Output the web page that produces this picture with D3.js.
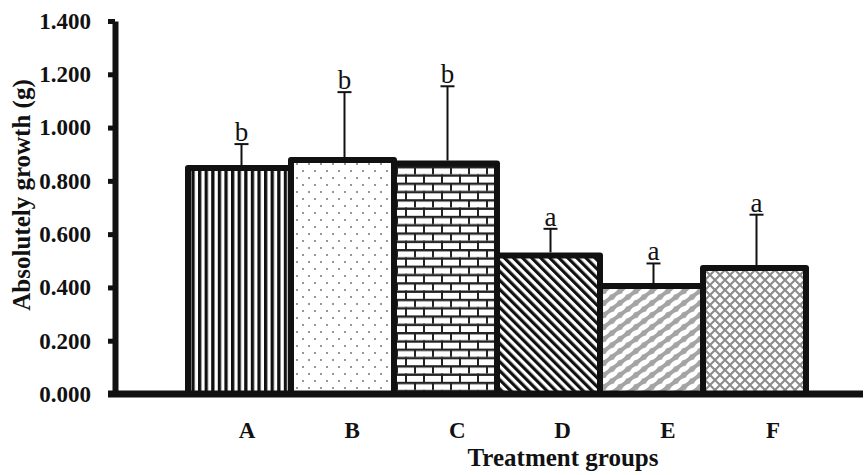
<!DOCTYPE html>
<html><head><meta charset="utf-8">
<script src="https://cdn.jsdelivr.net/npm/d3@7"></script>
<style>body{margin:0;background:#fff}svg{display:block}</style>
</head><body>
<svg id="chart" width="866" height="475"></svg>
<script>
const categories = ["A","B","C","D","E","F"];
const means = [0.848, 0.878, 0.865, 0.520, 0.405, 0.473];
const errors = [0.090, 0.255, 0.290, 0.100, 0.085, 0.200];
const letters = ["b","b","b","a","a","a"];
const tickValues = [0, 0.2, 0.4, 0.6, 0.8, 1.0, 1.2, 1.4];
const patterns = ["pA","pB","pC","pD","pE","pF"];

const svg = d3.select("#chart");
const defs = svg.append("defs");
// A vertical stripes
let p = defs.append("pattern").attr("id","pA").attr("patternUnits","userSpaceOnUse").attr("width",6.6).attr("height",10);
p.append("rect").attr("width",6.6).attr("height",10).attr("fill","#fff");
p.append("rect").attr("x",0).attr("width",3.3).attr("height",10).attr("fill","#111");
// B dots
p = defs.append("pattern").attr("id","pB").attr("patternUnits","userSpaceOnUse").attr("width",12).attr("height",14);
p.append("rect").attr("width",12).attr("height",14).attr("fill","#fff");
p.append("circle").attr("cx",3).attr("cy",3).attr("r",0.9).attr("fill","#666");
p.append("circle").attr("cx",9).attr("cy",10).attr("r",0.9).attr("fill","#666");
// C bricks
p = defs.append("pattern").attr("id","pC").attr("patternUnits","userSpaceOnUse").attr("width",18).attr("height",16.6);
p.append("rect").attr("width",18).attr("height",16.6).attr("fill","#fff");
p.append("rect").attr("x",0).attr("y",0).attr("width",18).attr("height",2.4).attr("fill","#222");
p.append("rect").attr("x",0).attr("y",8.3).attr("width",18).attr("height",2.4).attr("fill","#222");
p.append("rect").attr("x",0).attr("y",0).attr("width",2).attr("height",8.3).attr("fill","#222");
p.append("rect").attr("x",9).attr("y",8.3).attr("width",2).attr("height",8.3).attr("fill","#222");
// D diagonal stripes
p = defs.append("pattern").attr("id","pD").attr("patternUnits","userSpaceOnUse").attr("width",6.4).attr("height",10).attr("patternTransform","rotate(-45)");
p.append("rect").attr("width",6.4).attr("height",10).attr("fill","#fff");
p.append("rect").attr("width",3.2).attr("height",10).attr("fill","#111");
// E weave
p = defs.append("pattern").attr("id","pE").attr("patternUnits","userSpaceOnUse").attr("width",16).attr("height",12);
p.append("rect").attr("width",16).attr("height",12).attr("fill","#a4a4a4");
[[4,3],[12,9],[20,3],[-4,9],[4,15],[-4,-3],[12,-3],[20,15]].forEach(([cx,cy]) => {
  p.append("ellipse").attr("cx",cx).attr("cy",cy).attr("rx",6.5).attr("ry",2.7)
   .attr("transform",`rotate(-28 ${cx} ${cy})`).attr("fill","#fff");
});
// F diamonds
p = defs.append("pattern").attr("id","pF").attr("patternUnits","userSpaceOnUse").attr("width",10).attr("height",10);
p.append("rect").attr("width",10).attr("height",10).attr("fill","#8c8c8c");
const dia = (cx,cy,r)=>`M${cx},${cy-r}L${cx+r},${cy}L${cx},${cy+r}L${cx-r},${cy}Z`;
p.append("path").attr("d",dia(0,0,3.5)+dia(10,0,3.5)+dia(0,10,3.5)+dia(10,10,3.5)+dia(5,5,3.5)).attr("fill","#fff");

const x = d3.scaleBand().domain(categories).range([188, 806]).padding(0);
const xl = d3.scalePoint().domain(categories).range([247, 773]);
const y = d3.scaleLinear().domain([0, 1.4]).range([394, 21]);

// bars
svg.append("g").selectAll("rect").data(categories).join("rect")
  .attr("x", d => x(d)).attr("width", x.bandwidth())
  .attr("y", (d,i) => y(means[i])).attr("height", (d,i) => y(0) - y(means[i]))
  .attr("fill", (d,i) => `url(#${patterns[i]})`)
  .attr("stroke", "#111").attr("stroke-width", 6).attr("stroke-linejoin","round");

// error bars
const eg = svg.append("g").attr("stroke","#111").attr("stroke-width",2);
categories.forEach((c,i) => {
  const cx = x(c) + x.bandwidth()/2 + 2;
  const top = y(means[i] + errors[i]);
  eg.append("line").attr("x1",cx).attr("x2",cx).attr("y1",y(means[i])-3).attr("y2",top);
  eg.append("line").attr("x1",cx-7).attr("x2",cx+7).attr("y1",top).attr("y2",top);
});
svg.append("g").selectAll("text").data(categories).join("text")
  .attr("x", d => x(d) + x.bandwidth()/2 + 2)
  .attr("y", (d,i) => y(means[i] + errors[i]) - 3)
  .attr("text-anchor","middle")
  .attr("font-family","'Liberation Serif', 'Times New Roman', serif")
  .attr("font-size", 27).attr("fill","#111")
  .text((d,i) => letters[i]);

// y axis
const ya = svg.append("g").attr("transform","translate(115,0)")
  .call(d3.axisLeft(y).tickValues(tickValues).tickFormat(d3.format(".3f")).tickSize(7).tickSizeOuter(0).tickPadding(17));
ya.select(".domain").attr("stroke","#111").attr("stroke-width",6);
ya.selectAll(".tick line").attr("stroke","#111").attr("stroke-width",5);
ya.selectAll(".tick text").attr("font-family","'Liberation Serif', 'Times New Roman', serif")
  .attr("font-weight","bold").attr("font-size",23).attr("fill","#111");

// x axis line
svg.append("line").attr("x1",108).attr("x2",863).attr("y1",y(0)).attr("y2",y(0))
  .attr("stroke","#111").attr("stroke-width",7);

// x labels
svg.append("g").selectAll("text").data(categories).join("text")
  .attr("x", d => xl(d)).attr("y", 438).attr("text-anchor","middle")
  .attr("font-family","'Liberation Serif', 'Times New Roman', serif")
  .attr("font-weight","bold").attr("font-size",23).attr("fill","#111")
  .text(d => d);

svg.append("text").attr("x",563).attr("y",466).attr("text-anchor","middle")
  .attr("font-family","'Liberation Serif', 'Times New Roman', serif")
  .attr("font-weight","bold").attr("font-size",25).attr("fill","#111")
  .text("Treatment groups");

svg.append("text").attr("transform","translate(30,195) rotate(-90)").attr("text-anchor","middle")
  .attr("font-family","'Liberation Serif', 'Times New Roman', serif")
  .attr("font-weight","bold").attr("font-size",25).attr("fill","#111")
  .text("Absolutely growth (g)");
</script>
</body></html>
